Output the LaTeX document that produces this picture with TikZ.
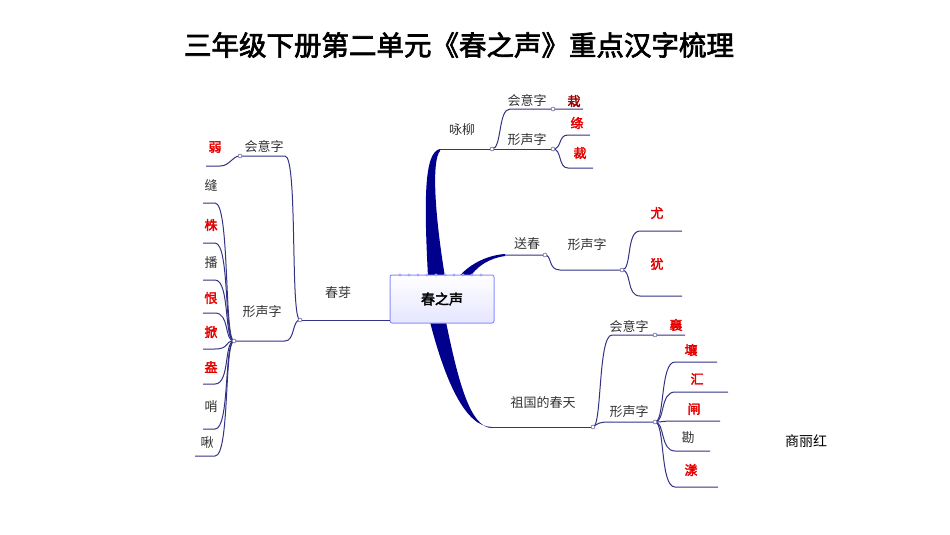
\documentclass[tikz,border=0pt]{standalone}
\usepackage{fontspec}
\setmainfont{Noto Sans CJK SC}[AutoFakeBold=2.5]
\begin{document}
\begin{tikzpicture}[x=1pt,y=-1pt,
  ln/.style={draw=blue!40!black!80, line width=1pt},
  dot/.style={circle, draw=blue!40!black!80, fill=white, inner sep=0pt, minimum size=4pt},
  lbl/.style={font=\fontsize{13}{13}\selectfont, text=black!80, inner sep=0pt},
  red/.style={font=\fontsize{13}{13}\selectfont\bfseries, text=red!90!black, inner sep=0pt},
  blk/.style={font=\fontsize{13}{13}\selectfont, text=black!80, inner sep=0pt}]
\useasboundingbox (0,0) rectangle (950,535);
\node[font=\fontsize{27.5}{27.5}\selectfont\bfseries] (title) at (459,45) {三年级下册第二单元《春之声》重点汉字梳理};
\node[font=\fontsize{14}{14}\selectfont] (author) at (806,441) {商丽红};
% trunks
\fill[blue!55!black] (428,277) .. controls (424,200) and (424,152) .. (440,149) -- (440,151) .. controls (432,160) and (434,210) .. (445,277) -- cycle;
\fill[blue!55!black] (456,280) .. controls (470,262) and (490,255) .. (505,254) -- (505,256) .. controls (490,258) and (476,266) .. (468,280) -- cycle;
\fill[blue!55!black] (430,322) .. controls (445,380) and (465,427) .. (492,427) -- (492,428) .. controls (470,428) and (458,380) .. (446,322) -- cycle;
% center
\node[draw=blue!45, line width=1pt, top color=white, bottom color=blue!10, rounded corners=2pt, minimum width=104pt, minimum height=48pt, inner sep=0pt, font=\fontsize{14}{14}\selectfont\bfseries] (c) at (442,299) {春之声};
\foreach \i in {0,...,9}{\fill[blue!35] (400+\i*9,275) circle (1.6pt);}
\coordinate (cw) at (390,320);
% 咏柳
\coordinate (yl) at (492,149);
\draw[ln] (440,149) -- (yl);
\node[lbl] (tyl) at (462,130) {咏柳};
\draw[ln] (yl) .. controls (502,149) and (498,109) .. (510,109) -- (553,109) -- (583,109);
\node[lbl] (t1) at (527,100) {会意字};
\node[font=\fontsize{13}{13}\selectfont\bfseries, text=red!60!black, inner sep=0pt] (z1) at (574,101) {栽};
\node[dot] at (553,109) {};
\draw[ln] (yl) -- (553,149);
\draw[ln] (553,149) .. controls (562,149) and (558,135) .. (568,135) -- (590,135);
\draw[ln] (553,149) .. controls (562,149) and (558,168) .. (568,168) -- (593,168);
\node[lbl] (t2) at (527,140) {形声字};
\node[red] at (577,123) {绦};
\node[red] at (580,153) {裁};
\node[dot] at (553,149) {};
\node[dot] at (yl) {};
% 送春
\coordinate (sc) at (545,255);
\draw[ln] (505,255) -- (sc) .. controls (552,255) and (548,270) .. (560,270) -- (622,270);
\draw[ln] (622,270) .. controls (632,270) and (626,231) .. (640,231) -- (682,231);
\draw[ln] (622,270) .. controls (632,270) and (626,296) .. (640,296) -- (682,296);
\node[lbl] at (527,244) {送春};
\node[lbl] at (587,245) {形声字};
\node[red] at (657,213) {尤};
\node[red] at (657,264) {犹};
\node[dot] at (sc) {};
\node[dot] at (622,270) {};
% 祖国的春天
\coordinate (zg) at (593,427);
\draw[ln] (490,427) -- (zg);
\node[lbl] at (543,403) {祖国的春天};
\draw[ln] (zg) .. controls (602,427) and (598,335) .. (612,335) -- (655,335) -- (685,335);
\node[lbl] at (629,326) {会意字};
\node[red] at (676,325) {襄};
\draw[ln] (zg) .. controls (598,423) and (600,422) .. (610,422) -- (655,422);
\node[lbl] at (629,412) {形声字};
\foreach \y/\e in {362/717,392/728,421/720,451/710,487/718}{
  \draw[ln] (655,422) .. controls (665,422) and (660,\y) .. (675,\y) -- (\e,\y);}
\node[red] at (691,350) {壤};
\node[red] at (697,379) {汇};
\node[red] at (694,409) {闸};
\node[blk] at (688,438) {勘};
\node[red] at (691,470) {漾};
\node[dot] at (655,335) {};
\node[dot] at (655,422) {};
\node[dot] at (zg) {};
% 春芽
\coordinate (cy) at (300,320);
\draw[ln] (cw) -- (cy);
\node[lbl] at (338,293) {春芽};
\draw[ln] (cy) .. controls (290,320) and (298,156) .. (285,156) -- (240,156) .. controls (232,156) and (230,166) .. (220,166) -- (206,166);
\node[lbl] at (264,146) {会意字};
\node[red] at (215,147) {弱};
\draw[ln] (cy) .. controls (292,320) and (295,341) .. (285,341) -- (234,341);
\node[lbl] at (262,312) {形声字};
\foreach \y/\e in {203/203,243/203,280/203,313/203,349/203,384/203,429/203,456/195}{
  \draw[ln] (234,341) .. controls (224,341) and (230,\y) .. (215,\y) -- (\e,\y);}
\node[blk] at (211,185) {缝};
\node[red] at (211,225) {株};
\node[blk] at (211,263) {播};
\node[red] at (211,298) {恨};
\node[red] at (211,332) {掀};
\node[red] at (211,367) {盎};
\node[blk] at (211,407) {哨};
\node[blk] at (207,443) {啾};
\node[dot] at (240,156) {};
\node[dot] at (234,341) {};
\node[dot] at (cy) {};
\end{tikzpicture}
\end{document}
